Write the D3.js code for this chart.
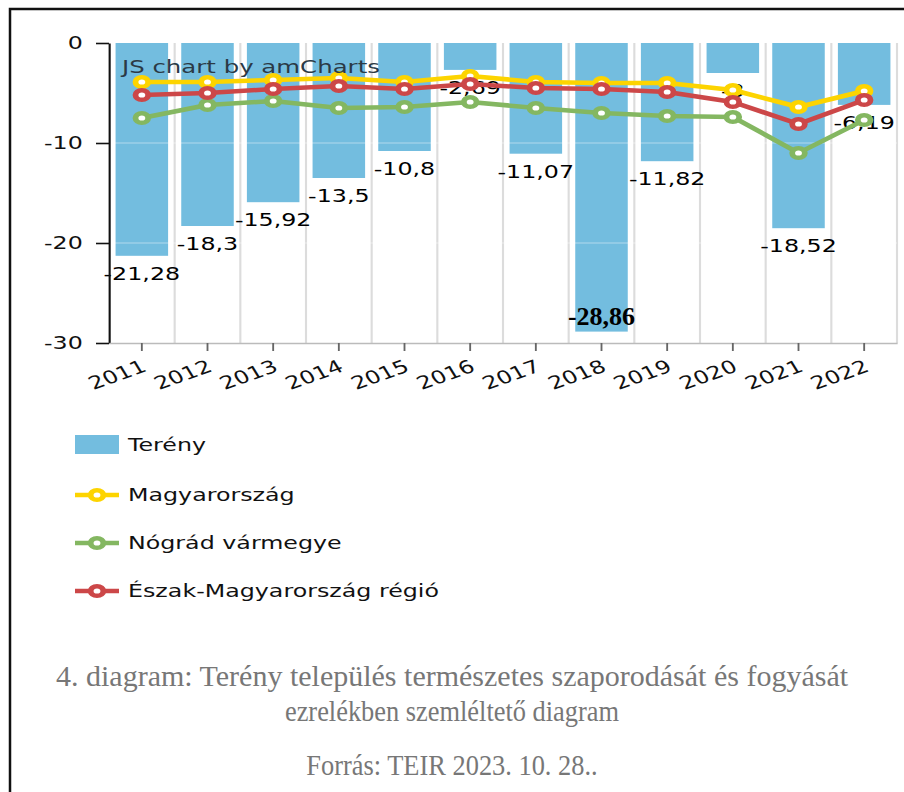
<!DOCTYPE html>
<html>
<head>
<meta charset="utf-8">
<style>
  body { margin: 0; background: #fff; }
  svg { display: block; }
</style>
</head>
<body>
<svg width="904" height="792"></svg>
<script src="https://d3js.org/d3.v7.min.js"></script>
<script>

    // natural increase / decrease per thousand, Terény and comparison areas

    var years = ["2011", "2012", "2013", "2014", "2015", "2016", "2017", "2018", "2019", "2020", "2021", "2022"];
    var tereny = [-21.28, -18.3, -15.92, -13.5, -10.8, -2.69, -11.07, -28.86, -11.82, -3, -18.52, -6.19];
    var magyarorszag = [-3.9, -3.9, -3.7, -3.5, -3.9, -3.3, -3.9, -4.0, -4.0, -4.7, -6.4, -4.8];
    var nograd = [-7.5, -6.2, -5.8, -6.5, -6.4, -5.9, -6.5, -7.0, -7.3, -7.4, -11.0, -7.7];
    var eszak = [-5.2, -5.0, -4.6, -4.3, -4.6, -4.1, -4.5, -4.6, -4.9, -5.9, -8.1, -5.7];
    var yTicks = [0, -10, -20, -30];
    var highlightYear = "2018";

    var lineSeries = [
        {name: "Magyarország", values: magyarorszag, color: "#fdd400"},
        {name: "Nógrád vármegye", values: nograd, color: "#84b761"},
        {name: "Észak-Magyarország régió", values: eszak, color: "#cc4748"}
    ];
    var barColor = "#67b7dc";

    // the chart picture is stretched sideways, so draw it in a scaled group
    var sx = 1.32;
    var font = "'DejaVu Sans', Verdana, sans-serif";
    var fmt = function (v) { return String(v).replace(".", ","); };

    var svg = d3.select("svg");

    // page frame
    svg.append("path")
        .attr("d", "M10,792 V9 H904")
        .attr("fill", "none")
        .attr("stroke", "#111")
        .attr("stroke-width", 2.5);

    var g = svg.append("g").attr("transform", "scale(" + sx + ",1)");

    var x = d3.scaleBand()
        .domain(years)
        .range([109 / sx, 897 / sx])
        .paddingInner(0.2)
        .paddingOuter(0.1);

    var y = d3.scaleLinear()
        .domain([0, -30])
        .range([43, 343]);

    var cx = function (year) { return x(year) + x.bandwidth() / 2; };

    // vertical grid at category borders
    g.append("g").selectAll("line")
        .data(years)
        .enter().append("line")
        .attr("x1", function (d, i) { return x.range()[0] + (i + 1) * x.step(); })
        .attr("x2", function (d, i) { return x.range()[0] + (i + 1) * x.step(); })
        .attr("y1", y(0))
        .attr("y2", y(-30))
        .attr("stroke", "#dcdcdc")
        .attr("stroke-width", 1.6);

    // bars
    g.append("g").selectAll("rect")
        .data(years)
        .enter().append("rect")
        .attr("x", function (d) { return x(d); })
        .attr("width", x.bandwidth())
        .attr("y", y(0))
        .attr("height", function (d, i) { return y(tereny[i]) - y(0); })
        .attr("fill", barColor)
        .attr("fill-opacity", 0.92);

    // faint horizontal grid, only visible over the bars
    g.append("g").selectAll("line")
        .data([-10, -20])
        .enter().append("line")
        .attr("x1", x.range()[0])
        .attr("x2", x.range()[1])
        .attr("y1", function (d) { return y(d); })
        .attr("y2", function (d) { return y(d); })
        .attr("stroke", "#fff")
        .attr("stroke-opacity", 0.3)
        .attr("stroke-width", 1.5);

    // bar value labels
    g.append("g").selectAll("text")
        .data(years.filter(function (d) { return d !== highlightYear; }))
        .enter().append("text")
        .attr("x", cx)
        .attr("y", function (d) { return y(tereny[years.indexOf(d)]) + 18; })
        .attr("dy", "0.35em")
        .attr("text-anchor", "middle")
        .style("font-family", font)
        .style("font-size", "18px")
        .attr("fill", "#000")
        .text(function (d) { return fmt(tereny[years.indexOf(d)]); });

    // y axis
    var yAxis = g.append("g")
        .attr("transform", "translate(" + x.range()[0] + ",0)")
        .call(d3.axisLeft(y).tickValues(yTicks).tickFormat(fmt)
            .tickSize(13 / sx).tickSizeOuter(0).tickPadding(10));
    yAxis.select(".domain").attr("stroke", "#111").attr("stroke-width", 1.6);
    yAxis.selectAll(".tick line").attr("stroke", "#111").attr("stroke-width", 1.6);
    yAxis.selectAll("text")
        .style("font-family", font)
        .style("font-size", "18px")
        .attr("fill", "#111");

    // x axis
    var xAxis = g.append("g")
        .attr("transform", "translate(0," + y(-30) + ")")
        .call(d3.axisBottom(x).tickSize(8).tickSizeOuter(0));
    xAxis.select(".domain").attr("stroke", "#bbb").attr("stroke-width", 1.6);
    xAxis.selectAll(".tick line").attr("stroke", "#666").attr("stroke-width", 1.4);
    xAxis.selectAll("text")
        .attr("y", 0)
        .attr("dy", "0.35em")
        .attr("transform", "translate(2,22) rotate(-25)")
        .style("text-anchor", "end")
        .style("font-family", font)
        .style("font-size", "18px")
        .attr("fill", "#111");

    // lines with hollow markers
    lineSeries.forEach(function (s) {
        var pts = years.map(function (d, i) { return [cx(d), y(s.values[i])]; });
        g.append("path")
            .attr("d", d3.line()(pts))
            .attr("fill", "none")
            .attr("stroke", s.color)
            .attr("stroke-width", 4.5)
            .attr("stroke-linejoin", "round");
        g.append("g").selectAll("circle")
            .data(pts)
            .enter().append("circle")
            .attr("cx", function (d) { return d[0]; })
            .attr("cy", function (d) { return d[1]; })
            .attr("r", 4.8)
            .attr("fill", "#fff")
            .attr("stroke", s.color)
            .attr("stroke-width", 4.4);
    });

    // watermark
    g.append("text")
        .attr("x", 122 / sx)
        .attr("y", 73)
        .style("font-family", font)
        .style("font-size", "18.5px")
        .attr("fill", "#2b3a46")
        .text("JS chart by amCharts");

    // legend
    var legendY = [445, 495, 543, 591];
    var legend = g.append("g");
    legend.append("rect")
        .attr("x", 75 / sx)
        .attr("y", legendY[0] - 10)
        .attr("width", 44 / sx)
        .attr("height", 19)
        .attr("fill", barColor)
        .attr("fill-opacity", 0.92);
    legend.append("text")
        .attr("x", 128 / sx)
        .attr("y", legendY[0])
        .attr("dy", "0.35em")
        .style("font-family", font)
        .style("font-size", "18px")
        .attr("fill", "#111")
        .text("Terény");
    lineSeries.forEach(function (s, i) {
        var ly = legendY[i + 1];
        legend.append("line")
            .attr("x1", 75 / sx).attr("x2", 119 / sx)
            .attr("y1", ly).attr("y2", ly)
            .attr("stroke", s.color)
            .attr("stroke-width", 4.5);
        legend.append("circle")
            .attr("cx", 97 / sx).attr("cy", ly)
            .attr("r", 4.8)
            .attr("fill", "#fff")
            .attr("stroke", s.color)
            .attr("stroke-width", 4.4);
        legend.append("text")
            .attr("x", 128 / sx)
            .attr("y", ly)
            .attr("dy", "0.35em")
            .style("font-family", font)
            .style("font-size", "18px")
            .attr("fill", "#111")
            .text(s.name);
    });

    // the highlighted value was typed over the picture, unstretched
    var hi = years.indexOf(highlightYear);
    svg.append("text")
        .attr("x", cx(highlightYear) * sx)
        .attr("y", y(tereny[hi]) - 7)
        .attr("text-anchor", "middle")
        .style("font-family", "'Liberation Serif', 'Times New Roman', serif")
        .style("font-size", "26px")
        .style("font-weight", "bold")
        .attr("fill", "#000")
        .text(fmt(tereny[hi]));

    // caption
    var caption = [
        {text: "4. diagram: Terény település természetes szaporodását és fogyását", y: 686, sc: 1.0},
        {text: "ezrelékben szemléltető diagram", y: 721, sc: 0.88},
        {text: "Forrás: TEIR 2023. 10. 28..", y: 775, sc: 0.88}
    ];
    svg.append("g").selectAll("text")
        .data(caption)
        .enter().append("text")
        .attr("transform", function (d) { return "translate(452," + d.y + ") scale(" + d.sc + ",1)"; })
        .attr("text-anchor", "middle")
        .style("font-family", "'Liberation Serif', 'Times New Roman', serif")
        .style("font-size", "30px")
        .attr("fill", "#777")
        .text(function (d) { return d.text; });

</script>
</body>
</html>
